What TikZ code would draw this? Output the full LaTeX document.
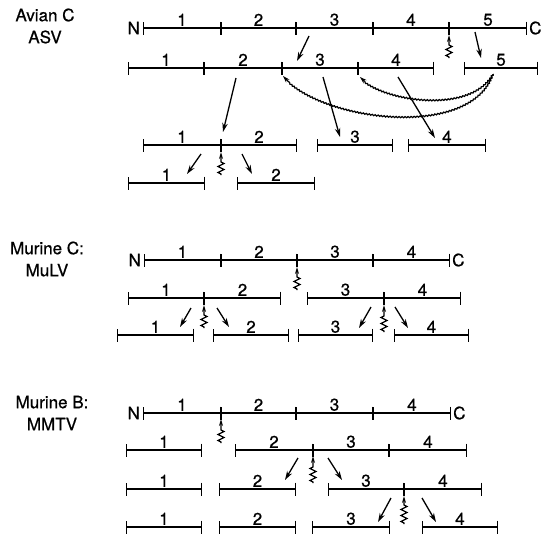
\documentclass[tikz,border=0pt]{standalone}
\usepackage{fontspec}
\setmainfont{TeX Gyre Heros}
\newfontfamily\labfont[FakeBold=0.7]{TeX Gyre Heros}
\usetikzlibrary{arrows.meta, decorations.pathmorphing}

\tikzset{
  seg/.style={{Bar[width=13pt]}-{Bar[width=13pt]}, line width=1.3pt},
  lbl/.style={above=0.5pt, inner sep=1pt, font=\labfont\fontsize{17}{20}\selectfont},
  term/.style={inner sep=1pt, font=\labfont\fontsize{17}{20}\selectfont},
  virus/.style={align=center, inner sep=0pt, font=\labfont\fontsize{17}{22}\selectfont},
  cut/.style={-{Stealth[length=9pt,width=5.5pt]}, line width=1.3pt},
  wig/.style={-{Stealth[length=7pt,width=4pt]}, line width=1.2pt, decorate,
    decoration={zigzag, amplitude=3pt, segment length=6pt, pre length=1pt, post length=9pt}},
  wave/.style={-{Stealth[length=7pt,width=4.5pt]}, line width=1.2pt, decorate,
    decoration={snake, amplitude=0.6pt, segment length=3pt, post length=6pt}}
}

\begin{document}
\begin{tikzpicture}[x=1pt, y=-1pt]
\useasboundingbox (0,0) rectangle (542,538);

% Avian C: ASV
\node[virus] (avian) at (45,26) {Avian C\\ASV};
\node[term, left=2pt] (avN) at (143,28) {N};
\draw[seg] (143,28) -- node[lbl] (av1a) {1} (221,28);
\draw[seg] (221,28) -- node[lbl] (av1b) {2} (296,28);
\draw[seg] (296,28) -- node[lbl] (av1c) {3} (373,28);
\draw[seg] (373,28) -- node[lbl] (av1d) {4} (449,28);
\draw[seg] (449,28) -- node[lbl] (av1e) {5} (527,28);
\node[term, right=1pt] (avC) at (527,28) {C};

\draw[seg] (128,68) -- node[lbl] (av2a) {1} (204,68);
\draw[seg] (204,68) -- node[lbl] (av2b) {2} (282,68);
\draw[seg] (282,68) -- node[lbl] (av2c) {3} (358,68);
\draw[seg] (358,68) -- node[lbl] (av2d) {4} (434,68);
\draw[seg] (464,68) -- node[lbl] (av2e) {5} (538,68);

\draw[seg] (143,145) -- node[lbl] (av3a) {1} (221,145);
\draw[seg] (221,145) -- node[lbl] (av3b) {2} (297,145);
\draw[seg] (317,145) -- node[lbl] (av3c) {3} (393,145);
\draw[seg] (408,145) -- node[lbl] (av3d) {4} (486,145);

\draw[seg] (128,183) -- node[lbl] (av4a) {1} (205,183);
\draw[seg] (237,183) -- node[lbl] (av4b) {2} (315,183);

% cleavages
\draw[cut] (309,36) -- (297,61);
\draw[cut] (475,32) -- (481,58);
\draw[wig] (449,58) -- (449,35);
\draw[cut] (236,78) -- (223,132);
\draw[cut] (323,77) -- (340,137);
\draw[cut] (398,77) -- (435,138);
\draw[cut] (201,154) -- (187,174);
\draw[cut] (242,154) -- (252,174);
\draw[wig] (221,175) -- (221,152);
\draw[wave] (493,74) .. controls (470,115) and (380,100) .. (360,77);
\draw[wave] (493,74) .. controls (470,140) and (320,120) .. (283,76);

% Murine C: MuLV
\node[virus] (mulv) at (47,259) {Murine C:\\MuLV};
\node[term, left=2pt] (mcN) at (144,260) {N};
\draw[seg] (144,260) -- node[lbl] (mc1a) {1} (221,260);
\draw[seg] (221,260) -- node[lbl] (mc1b) {2} (297,260);
\draw[seg] (297,260) -- node[lbl] (mc1c) {3} (373,260);
\draw[seg] (373,260) -- node[lbl] (mc1d) {4} (450,260);
\node[term, right=1pt] (mcC) at (450,260) {C};

\draw[seg] (128,298) -- node[lbl] (mc2a) {1} (204,298);
\draw[seg] (204,298) -- node[lbl] (mc2b) {2} (281,298);
\draw[seg] (307,298) -- node[lbl] (mc2c) {3} (384,298);
\draw[seg] (384,298) -- node[lbl] (mc2d) {4} (461,298);

\draw[seg] (117,335) -- node[lbl] (mc3a) {1} (194,335);
\draw[seg] (213,335) -- node[lbl] (mc3b) {2} (289,335);
\draw[seg] (298,335) -- node[lbl] (mc3c) {3} (373,335);
\draw[seg] (394,335) -- node[lbl] (mc3d) {4} (469,335);

% cleavages
\draw[wig] (297,290) -- (297,267);
\draw[cut] (191,308) -- (180,327);
\draw[cut] (217,308) -- (229,327);
\draw[wig] (204,328) -- (204,305);
\draw[cut] (371,307) -- (359,328);
\draw[cut] (395,307) -- (408,328);
\draw[wig] (384,332) -- (384,305);

% Murine B: MMTV
\node[virus] (mmtv) at (52,413) {Murine B:\\MMTV};
\node[term, left=2pt] (mbN) at (143,413) {N};
\draw[seg] (143,413) -- node[lbl] (mb1a) {1} (221,413);
\draw[seg] (221,413) -- node[lbl] (mb1b) {2} (296,413);
\draw[seg] (296,413) -- node[lbl] (mb1c) {3} (373,413);
\draw[seg] (373,413) -- node[lbl] (mb1d) {4} (451,413);
\node[term, right=1pt] (mbC) at (451,413) {C};

\draw[seg] (126,450) -- node[lbl] (mb2a) {1} (202,450);
\draw[seg] (235,450) -- node[lbl] (mb2b) {2} (313,450);
\draw[seg] (313,450) -- node[lbl] (mb2c) {3} (389,450);
\draw[seg] (389,450) -- node[lbl] (mb2d) {4} (467,450);

\draw[seg] (126,489) -- node[lbl] (mb3a) {1} (202,489);
\draw[seg] (219,489) -- node[lbl] (mb3b) {2} (296,489);
\draw[seg] (328,489) -- node[lbl] (mb3c) {3} (404,489);
\draw[seg] (404,489) -- node[lbl] (mb3d) {4} (482,489);

\draw[seg] (126,527) -- node[lbl] (mb4a) {1} (202,527);
\draw[seg] (219,527) -- node[lbl] (mb4b) {2} (296,527);
\draw[seg] (312,527) -- node[lbl] (mb4c) {3} (390,527);
\draw[seg] (422,527) -- node[lbl] (mb4d) {4} (498,527);

% cleavages
\draw[wig] (221,443) -- (221,419);
\draw[cut] (298,458) -- (285,480);
\draw[cut] (328,458) -- (342,480);
\draw[wig] (313,483) -- (313,456);
\draw[cut] (391,498) -- (378,522);
\draw[cut] (422,498) -- (436,522);
\draw[wig] (404,524) -- (404,496);
\end{tikzpicture}
\end{document}
